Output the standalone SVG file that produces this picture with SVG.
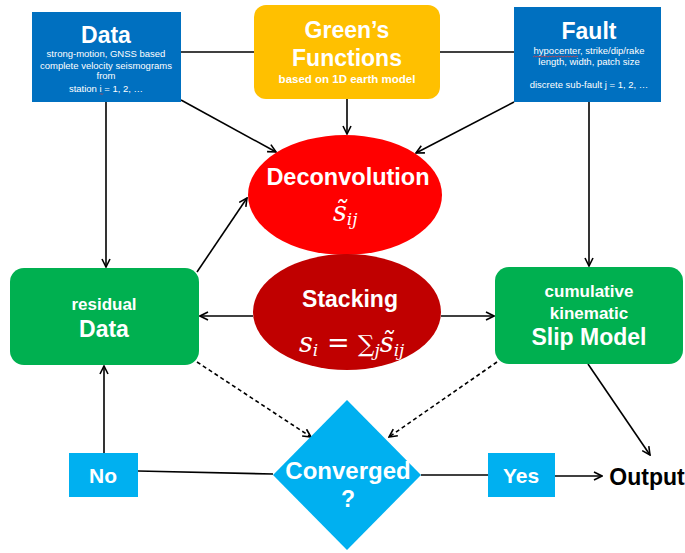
<svg xmlns="http://www.w3.org/2000/svg" width="685" height="553" viewBox="0 0 685 553">
<defs>
<style>
text{font-family:"Liberation Sans",Arial,sans-serif;fill:#fff;text-anchor:middle}
.b{font-weight:bold}
.t{font-size:23px;font-weight:bold}
.s{font-size:9.5px}
.m{font-family:"DejaVu Serif","Liberation Serif",serif;font-style:italic;text-anchor:start}
.ln{stroke:#000;stroke-width:1.6;fill:none}
.arr{marker-end:url(#ah)}
.dash{stroke-dasharray:4 3}
.sq{stroke:#E04040;stroke-width:0.8;fill:none}
</style>
<marker id="ah" viewBox="0 0 10 10" refX="9" refY="5" markerWidth="10" markerHeight="10" markerUnits="userSpaceOnUse" orient="auto">
<path d="M1,1 L9,5 L1,9" fill="none" stroke="#000" stroke-width="1.6"/>
</marker>
</defs>
<rect width="685" height="553" fill="#fff"/>
<g id="connectors">
<line class="ln" x1="181" y1="52" x2="514" y2="52"/>
<line class="ln arr" x1="181" y1="100" x2="276" y2="152"/>
<line class="ln arr" x1="347" y1="99" x2="347" y2="134"/>
<line class="ln arr" x1="514" y1="102" x2="416" y2="153"/>
<line class="ln arr" x1="106" y1="102" x2="106" y2="267"/>
<line class="ln arr" x1="589" y1="102" x2="589" y2="266"/>
<line class="ln arr" x1="197" y1="272" x2="247" y2="198"/>
<line class="ln arr" x1="253" y1="316" x2="200" y2="316"/>
<line class="ln arr" x1="441" y1="316" x2="494" y2="316"/>
<line class="ln arr dash" x1="197" y1="362" x2="311" y2="437"/>
<line class="ln arr dash" x1="497" y1="362" x2="389" y2="437"/>
<line class="ln arr" x1="588" y1="364" x2="650" y2="455"/>
<line class="ln arr" x1="104" y1="453" x2="104" y2="366"/>
<line class="ln" x1="138" y1="471" x2="273" y2="474"/>
<line class="ln" x1="421" y1="475" x2="488" y2="475"/>
<line class="ln arr" x1="555" y1="476" x2="602" y2="476"/>
</g>
<g id="data">
<rect x="32" y="12" width="149" height="90" fill="#0070C0"/>
<text class="t" x="106" y="43">Data</text>
<text class="s" x="106" y="57">strong-motion, GNSS based</text>
<text class="s" x="106" y="69">complete velocity seismograms</text>
<text class="s" x="106" y="79">from</text>
<text class="s" x="106" y="92">station i = 1, 2, …</text>
<path class="sq" d="M100,94.5 l1,-1 l1,1 l1,-1"/>
</g>
<g id="greens">
<rect x="254" y="5" width="186" height="94" rx="12" fill="#FFC000"/>
<text class="t" x="347" y="38">Green’s</text>
<text class="t" x="347" y="66">Functions</text>
<text class="b" x="347" y="83" font-size="11.5">based on 1D earth model</text>
</g>
<g id="fault">
<rect x="514" y="7" width="147" height="95" fill="#0070C0"/>
<text class="t" x="589" y="39">Fault</text>
<text class="s" x="589" y="54">hypocenter, strike/dip/rake</text>
<text class="s" x="589" y="65">length, width, patch size</text>
<text class="s" x="589" y="88">discrete sub-fault j = 1, 2, …</text>
<path class="sq" d="M533,57 l1.5,-1 l1.5,1 l1.5,-1 l1.5,1 l1.5,-1 l1.5,1 l1.5,-1 l1.5,1 l1.5,-1 l1.5,1 l1.5,-1 l1.5,1 l1.5,-1 l1.5,1 l1.5,-1 l1.5,1 l1.5,-1 l1.5,1 l1.5,-1 l1.5,1 l1.5,-1 l1.5,1 l1.5,-1 l1.5,1 l1.5,-1 l1.5,1 l1.5,-1 l1.5,1 l1.5,-1 l1.5,1"/>
</g>
<g id="deconvolution">
<ellipse cx="345" cy="195" rx="97" ry="60" fill="#FF0000"/>
<text class="b" x="348" y="185" font-size="23.5">Deconvolution</text>
<text class="m" x="333" y="221" font-size="27">s̃<tspan font-size="17" dy="4">ij</tspan></text>
</g>
<g id="stacking">
<ellipse cx="347" cy="312" rx="94" ry="58" fill="#C00000"/>
<text class="t" x="350" y="307">Stacking</text>
<text class="m" x="299" y="352" font-size="27">s<tspan font-size="17" dy="4">i</tspan><tspan font-style="normal" dy="-4"> = </tspan><tspan font-style="normal" font-size="23">∑</tspan><tspan font-size="17" dy="4">j</tspan><tspan dy="-4">s̃</tspan><tspan font-size="17" dy="4">ij</tspan></text>
</g>
<g id="residual">
<rect x="10" y="268" width="189" height="97" rx="14" fill="#00B050"/>
<text class="b" x="104" y="310" font-size="17">residual</text>
<text class="t" x="104" y="337">Data</text>
</g>
<g id="slip">
<rect x="495" y="267" width="188" height="97" rx="14" fill="#00B050"/>
<text class="b" x="589" y="297" font-size="17">cumulative</text>
<text class="b" x="589" y="319" font-size="17">kinematic</text>
<text class="t" x="589" y="345">Slip Model</text>
</g>
<g id="converged">
<polygon points="347,400 421,475 347,550 273,475" fill="#00B0F0"/>
<text class="b" x="348" y="479" font-size="24">Converged</text>
<text class="t" x="348" y="507">?</text>
</g>
<g id="no">
<rect x="69" y="453" width="69" height="44" fill="#00B0F0"/>
<text class="b" x="103" y="483" font-size="21">No</text>
</g>
<g id="yes">
<rect x="488" y="453" width="67" height="44" fill="#00B0F0"/>
<text class="b" x="521" y="483" font-size="21">Yes</text>
</g>
<g id="output">
<text class="t" x="647" y="485" style="fill:#000">Output</text>
</g>
</svg>
